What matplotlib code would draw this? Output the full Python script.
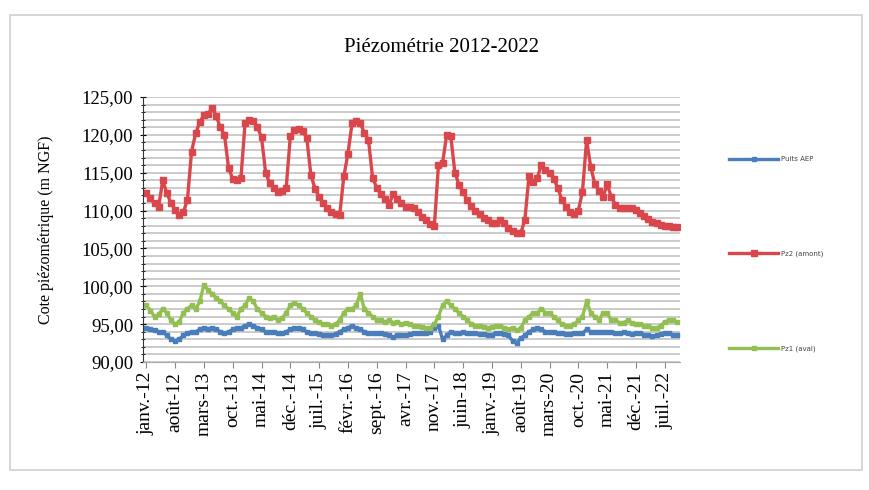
import matplotlib
matplotlib.use('Agg')
import matplotlib.pyplot as plt
from matplotlib.patches import Rectangle
from matplotlib.ticker import MultipleLocator

# monthly series, janv.-12 -> oct.-22
pz2_amont = [112.3, 111.6, 111.0, 110.5, 114.0, 112.3, 111.0, 110.1, 109.4, 109.8,
             111.4, 117.8, 120.2, 121.7, 122.6, 122.8, 123.5, 122.5, 121.0, 120.0,
             115.6, 114.2, 114.0, 114.3, 121.5, 121.9, 121.8, 121.0, 119.7, 115.0,
             113.6, 113.0, 112.5, 112.6, 113.0, 119.8, 120.6, 120.8, 120.5, 119.6,
             114.7, 112.9, 111.8, 111.0, 110.3, 109.8, 109.5, 109.4, 114.5, 117.5,
             121.5, 121.8, 121.5, 120.3, 119.3, 114.3, 113.0, 112.2, 111.5, 110.8,
             112.2, 111.5, 111.0, 110.5, 110.5, 110.4, 109.8, 109.2, 108.7, 108.2,
             107.9, 116.0, 116.3, 120.0, 119.8, 115.0, 113.4, 112.4, 111.4, 110.6,
             110.0, 109.5, 109.0, 108.7, 108.4, 108.4, 108.8, 108.4, 107.7, 107.3,
             107.0, 107.0, 108.8, 114.5, 113.8, 114.3, 116.0, 115.4, 115.0, 114.2,
             113.0, 111.4, 110.5, 109.8, 109.6, 110.0, 112.5, 119.3, 115.8, 113.5,
             112.6, 111.8, 113.5, 111.8, 110.8, 110.4, 110.3, 110.4, 110.4, 110.1,
             109.7, 109.3, 108.9, 108.5, 108.3, 108.1, 108.0, 107.9, 107.8, 107.8]

puits_aep = [94.5, 94.3, 94.2, 94.0, 94.0, 93.5, 93.0, 92.8, 93.0, 93.5,
             93.8, 94.0, 94.0, 94.3, 94.5, 94.3, 94.5, 94.3, 94.0, 93.8,
             94.0, 94.3, 94.5, 94.5, 94.8, 95.0, 94.8, 94.5, 94.3, 94.0,
             94.0, 94.0, 93.8, 93.8, 94.0, 94.3, 94.5, 94.5, 94.3, 94.0,
             93.8, 93.8, 93.7, 93.6, 93.5, 93.5, 93.7, 94.0, 94.3, 94.5,
             94.8, 94.5, 94.3, 94.0, 93.8, 93.8, 93.8, 93.8, 93.7, 93.5,
             93.3, 93.5, 93.5, 93.5, 93.7, 93.8, 93.8, 93.8, 93.8, 94.0,
             94.5, 94.8, 93.0, 93.5, 94.0, 93.8, 93.8, 93.9, 93.8, 93.8,
             93.8, 93.7, 93.7, 93.6, 93.6, 93.8, 93.8, 93.7, 93.5, 92.8,
             92.5, 93.2, 93.5, 94.0, 94.3, 94.5, 94.3, 94.0, 94.0, 93.9,
             93.8, 93.8, 93.7, 93.7, 93.8, 93.8, 93.8, 94.3, 94.0, 94.0,
             93.9, 93.9, 94.0, 93.9, 93.8, 93.8, 93.9, 93.8, 93.7, 93.8,
             93.8, 93.6, 93.5, 93.4, 93.5, 93.7, 93.8, 93.8, 93.6, 93.5]

pz1_aval = [97.5, 96.8, 96.0, 96.3, 97.0, 96.5, 95.5, 95.0, 95.3, 96.5,
            97.0, 97.5, 97.0, 98.0, 100.2, 99.5, 99.0, 98.5, 98.0, 97.5,
            97.0, 96.5, 96.0, 97.0, 97.5, 98.5, 98.0, 97.0, 96.5, 96.0,
            95.8, 96.0, 95.5, 95.8, 96.5, 97.5, 97.8, 97.5, 97.0, 96.5,
            96.0, 95.5, 95.3, 95.0, 95.0, 94.8, 95.0, 95.5, 96.5, 97.0,
            97.0, 97.5, 99.0, 97.0, 96.5, 96.0, 95.5, 95.5, 95.3, 95.5,
            95.2, 95.3, 95.0, 95.2, 95.0, 94.8, 94.8, 94.6, 94.5, 94.5,
            95.0, 96.0, 97.5, 98.0, 97.5, 97.0, 96.5, 96.0, 95.5, 95.0,
            94.8, 94.8, 94.6, 94.5, 94.6, 94.8, 94.8, 94.5, 94.3, 94.5,
            94.2, 94.5, 95.5, 96.0, 96.5, 96.5, 97.0, 96.5, 96.5, 96.0,
            95.5, 95.0, 94.8, 94.8, 95.0, 95.5, 96.0, 98.0, 96.5, 96.0,
            95.5, 96.5, 96.5, 95.5, 95.5, 95.2, 95.2, 95.5, 95.2, 95.0,
            95.0, 94.8, 94.8, 94.5, 94.5, 94.8, 95.3, 95.5, 95.5, 95.3]

tick_labels = ['janv.-12', 'août-12', 'mars-13', 'oct.-13', 'mai-14', 'déc.-14',
               'juil.-15', 'févr.-16', 'sept.-16', 'avr.-17', 'nov.-17', 'juin-18',
               'janv.-19', 'août-19', 'mars-20', 'oct.-20', 'mai-21', 'déc.-21',
               'juil.-22']
tick_step = 7

serif = 'Liberation Serif'
x = list(range(len(pz2_amont)))

fig = plt.figure(figsize=(8.7, 4.9), dpi=100)
fig.patches.append(Rectangle((10 / 870, 20 / 490), 852 / 870, 455 / 490,
                             transform=fig.transFigure, fill=False,
                             edgecolor='#d0d0d0', linewidth=1.2))
ax = fig.add_axes([143 / 870, 1 - 362 / 490, 537 / 870, 265 / 490])

ax.plot(x, puits_aep, color='#4a7ebb', lw=2.4, marker='s', ms=3.2, label='Puits AEP')
ax.plot(x, pz2_amont, color='#d9474c', lw=2.4, marker='s', ms=3.8, label='Pz2 (amont)')
ax.plot(x, pz1_aval, color='#93bf52', lw=2.4, marker='s', ms=3.2, label='Pz1 (aval)')

ax.set_ylim(90, 125)
ax.set_xlim(-0.8, len(x) - 0.3)
ax.yaxis.set_major_locator(MultipleLocator(5))
ax.yaxis.set_minor_locator(MultipleLocator(1))
ax.yaxis.set_major_formatter(lambda v, p: f'{v:.2f}'.replace('.', ','))
ax.grid(axis='y', which='both', color='#bdbdbd', lw=1.1)
ax.set_axisbelow(True)

ax.set_xticks(x[::tick_step][:len(tick_labels)])
ax.set_xticklabels(tick_labels, rotation=90, family=serif, fontsize=14)
for lab in ax.get_yticklabels():
    lab.set_family(serif)
ax.tick_params(axis='y', labelsize=13.5, length=4, direction='inout', pad=5)
ax.tick_params(axis='y', which='minor', length=3, direction='inout')
ax.tick_params(axis='x', length=4, color='#888888', pad=3)

for s in ['top', 'right']:
    ax.spines[s].set_visible(False)
ax.spines['bottom'].set_color('#aaaaaa')
ax.spines['left'].set_color('#333333')

ax.set_ylabel('Cote piézométrique (m NGF)', family=serif, fontsize=11.5, labelpad=20)
fig.text(0.507, 1 - 47 / 490, 'Piézométrie 2012-2022', family=serif, fontsize=15,
         ha='center', va='center')

ax.legend(loc='upper left', bbox_to_anchor=(1.08, 0.80), frameon=False,
          fontsize=5, labelspacing=12.7, handlelength=7, handletextpad=0.5,
          labelcolor='#444444')

fig.savefig('out.png', dpi=100)
